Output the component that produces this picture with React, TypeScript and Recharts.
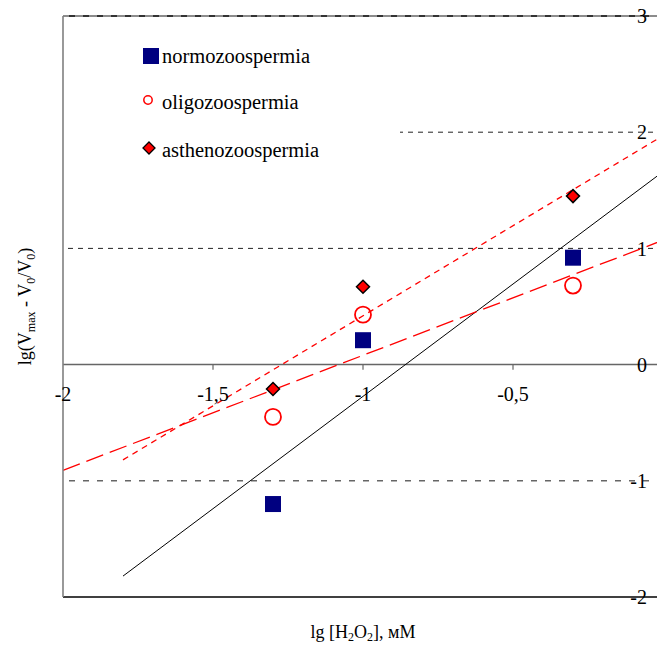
import React from "react";
import {
  ComposedChart,
  Line,
  ReferenceDot,
  ReferenceLine,
  Scatter,
  XAxis,
  YAxis,
} from "recharts";

const FONT = '"Liberation Serif", "Times New Roman", serif';

// lg [H2O2] levels where measurements were taken
const doseX = [-1.3, -1, -0.3];
const normoValues = [-1.2, 0.21, 0.92];
const oligoValues = [-0.45, 0.43, 0.68];
const asthenoValues = [-0.21, 0.67, 1.45];

// trend lines, end points
const normoTrendX = [-1.8, 0];
const normoTrendY = [-1.82, 1.66];
const oligoTrendX = [-2, 0];
const oligoTrendY = [-0.91, 1.07];
const asthenoTrendX = [-1.8, 0];
const asthenoTrendY = [-0.82, 1.97];

const xTicks = [-2, -1.5, -1, -0.5];
const yTicks = [-2, -1, 0, 1, 2, 3];

const toPoints = (xs: number[], ys: number[]) =>
  xs.map((x, i) => ({ x, y: ys[i] }));

const normoData = toPoints(doseX, normoValues);
const oligoData = toPoints(doseX, oligoValues);
const asthenoData = toPoints(doseX, asthenoValues);
const normoTrend = toPoints(normoTrendX, normoTrendY);
const oligoTrend = toPoints(oligoTrendX, oligoTrendY);
const asthenoTrend = toPoints(asthenoTrendX, asthenoTrendY);

const fmt = (v: number) => String(v).replace(".", ",");

const SquareShape = (p: any) => (
  <rect x={p.cx - 8} y={p.cy - 8} width={16} height={16} fill="#000080" />
);
const CircleShape = (p: any) => (
  <circle cx={p.cx} cy={p.cy} r={8} fill="none" stroke="#FF0000" strokeWidth={1.8} />
);
const DiamondShape = (p: any) => (
  <polygon
    points={`${p.cx},${p.cy - 6.5} ${p.cx + 6.5},${p.cy} ${p.cx},${p.cy + 6.5} ${p.cx - 6.5},${p.cy}`}
    fill="#FF0000"
    stroke="#000"
    strokeWidth={1.5}
  />
);

const XTitle = ({ viewBox }: any) => {
  const { x, y, width } = viewBox;
  return (
    <text x={x + width / 2} y={y + 41} textAnchor="middle" fontFamily={FONT} fontSize={18} fill="#000">
      <tspan>lg [H</tspan>
      <tspan dy={3} fontSize={12}>2</tspan>
      <tspan dy={-3}>O</tspan>
      <tspan dy={3} fontSize={12}>2</tspan>
      <tspan dy={-3}>], мМ</tspan>
    </text>
  );
};

const YTitle = ({ viewBox }: any) => {
  const { x, y, height } = viewBox;
  const cx = x + 31;
  const cy = y + height / 2;
  return (
    <text
      x={cx}
      y={cy}
      transform={`rotate(-90 ${cx} ${cy})`}
      textAnchor="middle"
      fontFamily={FONT}
      fontSize={18}
      fill="#000"
    >
      <tspan>lg(V</tspan>
      <tspan dy={4} fontSize={12}>max</tspan>
      <tspan dy={-4}> - V</tspan>
      <tspan dy={4} fontSize={12}>0</tspan>
      <tspan dy={-4}>/V</tspan>
      <tspan dy={4} fontSize={12}>0</tspan>
      <tspan dy={-4}>)</tspan>
    </text>
  );
};

const legendRows = [
  { label: "normozoospermia", top: 41, marker: <rect x={0} y={0} width={16} height={16} fill="#000080" /> },
  { label: "oligozoospermia", top: 87, marker: <circle cx={5} cy={6} r={4.2} fill="none" stroke="#FF0000" strokeWidth={1.5} /> },
  {
    label: "asthenozoospermia",
    top: 135,
    marker: <polygon points="6,0 12,6 6,12 0,6" fill="#FF0000" stroke="#000" strokeWidth={1.3} />,
  },
];

export default function App() {
  return (
    <div style={{ position: "absolute", left: 0, top: 0, width: 657, height: 646, overflow: "hidden", background: "#fff" }}>
      <ComposedChart width={680} height={646} margin={{ top: 16, right: 17, bottom: 0, left: 0 }}>
        <XAxis
          type="number"
          dataKey="x"
          domain={[-2, 0]}
          ticks={[]}
          tick={false}
          tickLine={false}
          height={49}
          axisLine={{ stroke: "#000", strokeWidth: 1.5 }}
          label={<XTitle />}
        />
        <YAxis
          yAxisId="frame"
          type="number"
          domain={[-2, 3]}
          width={63}
          tick={false}
          tickLine={false}
          axisLine={{ stroke: "#808080", strokeWidth: 1.6 }}
          label={<YTitle />}
        />
        <YAxis
          type="number"
          dataKey="y"
          orientation="right"
          mirror
          domain={[-2, 3]}
          ticks={yTicks}
          axisLine={false}
          tickLine={false}
          tickMargin={10}
          tick={{ fontFamily: FONT, fontSize: 20, fill: "#000" }}
        />

        <ReferenceLine y={3} stroke="#8c8c8c" strokeWidth={2} />
        <ReferenceLine y={3} stroke="#333" strokeWidth={2} strokeDasharray="6 8" />
        <ReferenceLine y={2} stroke="#222" strokeDasharray="5 5" />
        <ReferenceLine y={1} stroke="#222" strokeDasharray="5 5" />
        <ReferenceLine y={-1} stroke="#666" strokeWidth={1.5} strokeDasharray="6 8" />
        <ReferenceLine y={0} stroke="#666" strokeWidth={1.5} />
        {xTicks.slice(1).map((t) => (
          <ReferenceLine
            key={`t${t}`}
            segment={[
              { x: t, y: 0 },
              { x: t, y: -0.045 },
            ]}
            stroke="#666"
            strokeWidth={1.2}
          />
        ))}
        {xTicks.map((t) => (
          <ReferenceDot
            key={`l${t}`}
            x={t}
            y={0}
            r={0}
            stroke="none"
            label={{ value: fmt(t), position: "bottom", offset: 22, fontFamily: FONT, fontSize: 20, fill: "#000" }}
          />
        ))}

        <Line data={normoTrend} dataKey="y" stroke="#000" strokeWidth={1} dot={false} isAnimationActive={false} />
        <Line
          data={oligoTrend}
          dataKey="y"
          stroke="#FF0000"
          strokeWidth={1.3}
          strokeDasharray="18 7"
          dot={false}
          isAnimationActive={false}
        />
        <Line
          data={asthenoTrend}
          dataKey="y"
          stroke="#FF0000"
          strokeWidth={1.3}
          strokeDasharray="6 5"
          dot={false}
          isAnimationActive={false}
        />

        <Scatter data={normoData} dataKey="y" shape={SquareShape} isAnimationActive={false} />
        <Scatter data={oligoData} dataKey="y" shape={CircleShape} isAnimationActive={false} />
        <Scatter data={asthenoData} dataKey="y" shape={DiamondShape} isAnimationActive={false} />
      </ComposedChart>

      <div style={{ position: "absolute", left: 68, top: 30, width: 332, height: 140, background: "#fff" }} />
      {legendRows.map((r) => (
        <div
          key={r.label}
          style={{
            position: "absolute",
            left: 143,
            top: r.top,
            height: 30,
            display: "flex",
            alignItems: "center",
            fontFamily: FONT,
            fontSize: 20.5,
            color: "#000",
            whiteSpace: "nowrap",
          }}
        >
          <svg width={16} height={16} style={{ marginRight: 3, overflow: "visible" }}>
            {r.marker}
          </svg>
          <span>{r.label}</span>
        </div>
      ))}
    </div>
  );
}
